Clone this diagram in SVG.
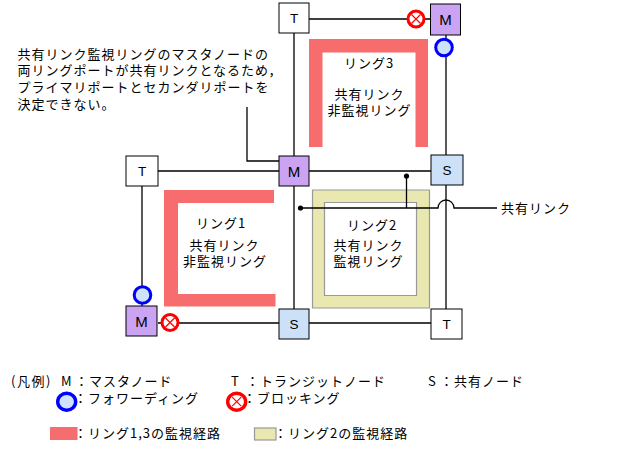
<svg xmlns="http://www.w3.org/2000/svg" width="633" height="458" viewBox="0 0 633 458">
<style>
.jp{font-family:"Noto Sans CJK JP","Noto Sans CJK SC",sans-serif;font-size:13px;letter-spacing:1px;fill:#000}
.lt{font-family:"Liberation Sans",Arial,sans-serif;fill:#000;text-anchor:middle}
.ln{stroke:#000;stroke-width:1.3;fill:none}
.box{stroke:#000;stroke-width:1}
.m{fill:#caa4f2}
.s{fill:#cce0f8}
.t{fill:#fff}
.ring13{fill:#f76d6d}
.ring2{fill:#e8e8b0;stroke:#999;stroke-width:1.2;fill-rule:evenodd}
.fwd{fill:#cfe2fb;stroke:#0000ff;stroke-width:3}
.blk{fill:#fff;stroke:#ff0000;stroke-width:3}
.x{stroke:#ff0000;stroke-width:1.2}
</style>
<defs>
<g id="blkSym"><circle class="blk" r="8"/><path class="x" d="M-4.5,-4.5L4.5,4.5M4.5,-4.5L-4.5,4.5"/></g>
</defs>
<rect width="633" height="458" fill="#fff"/>
<!-- monitoring paths -->
<g id="ring3-path"><path class="ring13" d="M309,147V39H428V147H415.5V52.5H322.5V147Z"/></g>
<g id="ring1-path"><path class="ring13" d="M274,190H164V306.5H275.5V294H178V203H274Z"/></g>
<g id="ring2-path"><path class="ring2" d="M312.5,190H429.5V308H312.5ZM324.5,202.5V295.5H416.5V202.5Z"/></g>
<!-- connectors -->
<g id="connectors">
<path class="ln" d="M309,19H430M294,33V156M446,35V155M309,171H431M158,171H279M142,186V306M158,323H279M294,186V309M446,185V309M309,323H431"/>
<path class="ln" d="M247,107V161H285"/>
<circle cx="285" cy="161" r="2.6" fill="#000"/>
<path class="ln" d="M300.5,208H438A8,8 0 0 1 454,208H497"/>
<circle cx="300.5" cy="208" r="2.6" fill="#000"/>
<path class="ln" d="M406.5,176V208"/>
<circle cx="406.5" cy="176" r="2.6" fill="#000"/>
</g>
<!-- nodes -->
<g id="node-T-top"><rect class="box t" x="279" y="3" width="30" height="30"/><text class="lt" x="294" y="23" font-size="13.5">T</text></g>
<g id="node-M-top"><rect class="box m" x="430.5" y="4" width="30" height="31"/><text class="lt" x="445.5" y="25" font-size="15">M</text></g>
<g id="node-S-right"><rect class="box s" x="431" y="155" width="32" height="30"/><text class="lt" x="447" y="175" font-size="13.5">S</text></g>
<g id="node-M-mid"><rect class="box m" x="279" y="156" width="30" height="30"/><text class="lt" x="294" y="177" font-size="15">M</text></g>
<g id="node-T-left"><rect class="box t" x="126" y="156" width="32" height="30"/><text class="lt" x="142" y="176" font-size="13.5">T</text></g>
<g id="node-M-bl"><rect class="box m" x="126" y="306" width="31" height="30"/><text class="lt" x="141.5" y="327" font-size="15">M</text></g>
<g id="node-S-bottom"><rect class="box s" x="279" y="309" width="30" height="30"/><text class="lt" x="294" y="329" font-size="13.5">S</text></g>
<g id="node-T-br"><rect class="box t" x="431" y="309" width="31" height="30"/><text class="lt" x="446.5" y="329" font-size="13.5">T</text></g>
<!-- port states -->
<g id="port-blk-top"><use href="#blkSym" x="416" y="19"/></g>
<g id="port-fwd-top"><circle class="fwd" cx="444" cy="47.5" r="8.3"/></g>
<g id="port-fwd-bl"><circle class="fwd" cx="142.5" cy="295" r="8.3"/></g>
<g id="port-blk-bl"><use href="#blkSym" x="170" y="322.5"/></g>
<!-- ring labels -->
<g id="ring3-label" class="jp" text-anchor="middle">
<text x="369" y="67.5">リング3</text>
<text x="369.5" y="98.5">共有リンク</text>
<text x="369.5" y="115">非監視リング</text>
</g>
<g id="ring1-label" class="jp" text-anchor="middle">
<text x="221" y="228">リング1</text>
<text x="224.5" y="249.5">共有リンク</text>
<text x="225" y="265.5">非監視リング</text>
</g>
<g id="ring2-label" class="jp">
<text x="347" y="230">リング2</text>
<text x="333.5" y="250">共有リンク</text>
<text x="333.5" y="266">監視リング</text>
</g>
<g id="note" class="jp">
<text x="17.5" y="58.5">共有リンク監視リングのマスタノードの</text>
<text x="17.5" y="75">両リングポートが共有リンクとなるため，</text>
<text x="17.5" y="92">プライマリポートとセカンダリポートを</text>
<text x="17.5" y="109">決定できない。</text>
</g>
<g id="shared-link-label" class="jp"><text x="501" y="213">共有リンク</text></g>
<!-- legend -->
<g id="legend" class="jp">
<text x="11" y="385.5" style="letter-spacing:1.5px">(凡例)</text>
<text y="385.5"><tspan x="61">M</tspan><tspan x="75">：マスタノード</tspan></text>
<text y="385.5"><tspan x="231">T</tspan><tspan x="246">：トランジットノード</tspan></text>
<text y="385.5"><tspan x="428">S</tspan><tspan x="440">：共有ノード</tspan></text>
<ellipse class="fwd" cx="66.7" cy="401.7" rx="9" ry="8.5" style="stroke-width:3.4"/>
<text x="74" y="403">：フォワーディング</text>
<g transform="translate(236.7,401.7)"><ellipse class="blk" rx="9" ry="8.5" style="stroke-width:3.4"/><path class="x" d="M-4.5,-4.5L4.5,4.5M4.5,-4.5L-4.5,4.5"/></g>
<text x="243" y="403">：ブロッキング</text>
<rect class="ring13" x="50" y="427" width="27.5" height="13"/>
<text x="74" y="438">：リング1,3の監視経路</text>
<rect x="254.5" y="428" width="21.5" height="12" fill="#e8e8b0" stroke="#999" stroke-width="1.2"/>
<text x="274" y="438">：リング2の監視経路</text>
</g>
</svg>
